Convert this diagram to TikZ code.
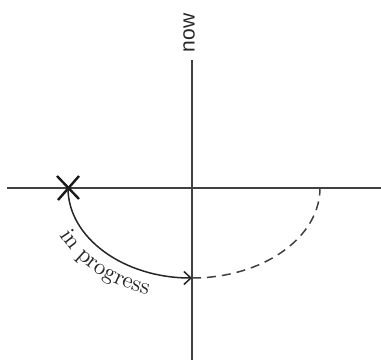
\documentclass[tikz,border=0pt]{standalone}
\usepackage{fontspec}
\newfontfamily\nowfont{Liberation Sans}
\usetikzlibrary{arrows.meta,decorations.text,calc}
\tikzset{
  axis/.style={line width=1.8pt, draw=black!75},
  event/.style={line width=1.5pt, draw=black!85},
  future/.style={line width=1.5pt, draw=black!75, dash pattern=on 9pt off 6pt},
  crossmark/.style={line width=2.4pt, draw=black!90},
}
\begin{document}
\begin{tikzpicture}[x=1pt,y=1pt]
\useasboundingbox (0,0) rectangle (381,360);
\coordinate (L) at (7,172);
\coordinate (R) at (381,172);
\coordinate (T) at (192,300);
\coordinate (B) at (192,0);
\coordinate (X) at (68,172);
\coordinate (N) at (192,82);
\node[rotate=90, font=\nowfont\fontsize{21}{24}\selectfont, text=black!85, inner sep=0pt] (now) at (189,327) {now};
\draw[axis] (L) -- (R);
\draw[axis] (T) -- (B);
\draw[crossmark] ($(X)+(-11,12)$) -- ($(X)+(11,-11)$);
\draw[crossmark] ($(X)+(-10,-12)$) -- ($(X)+(11,12)$);
\draw[event, -{Straight Barb[length=7pt,width=13pt,line width=1.5pt]}] (X) arc[start angle=180, end angle=270, x radius=124, y radius=90];
\draw[future] (N) arc[start angle=270, end angle=360, x radius=128, y radius=90];
\begin{scope}[transform canvas={scale=2.3}]
\path[decorate, decoration={text along path, text align=left, text color=black!85,
  text={in progress}}]
  (83.48,74.78) ++(205:63.48 and 48.70) arc[start angle=205, end angle=280, x radius=63.48, y radius=48.70];
\end{scope}
\end{tikzpicture}
\end{document}
